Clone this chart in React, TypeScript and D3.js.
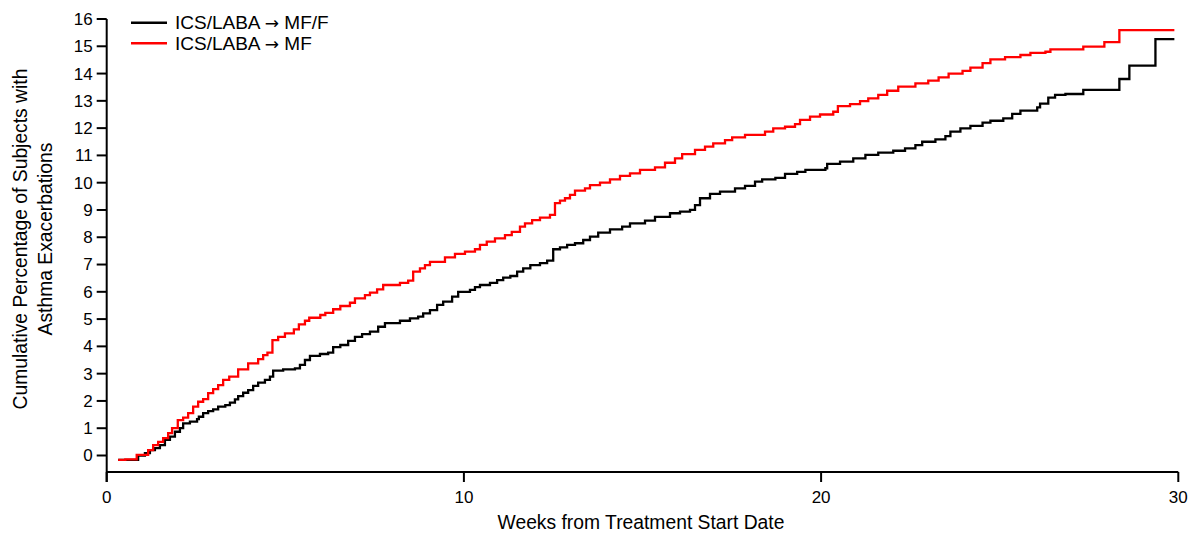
import * as React from 'react'
import * as d3 from 'd3'

// ICS/LABA -> MF/F (black)
const mffWeeks = [0.32, 0.88, 1.07, 1.21, 1.35, 1.49, 1.63, 1.77, 1.91, 2.05, 2.14, 2.33, 2.53, 2.58, 2.7, 2.84, 2.98, 3.12, 3.32, 3.45, 3.59, 3.68, 3.82, 3.96, 4.1, 4.24, 4.43, 4.57, 4.66, 4.94, 5.27, 5.41, 5.55, 5.69, 5.97, 6.2, 6.34, 6.54, 6.76, 6.95, 7.15, 7.37, 7.6, 7.79, 8.21, 8.49, 8.72, 8.86, 9.05, 9.25, 9.42, 9.67, 9.84, 10.17, 10.31, 10.45, 10.73, 10.93, 11.1, 11.3, 11.49, 11.66, 11.86, 12.13, 12.33, 12.5, 12.69, 12.89, 13.11, 13.34, 13.53, 13.76, 14.09, 14.43, 14.65, 15.07, 15.35, 15.77, 16.05, 16.33, 16.47, 16.61, 16.89, 17.17, 17.59, 17.87, 18.15, 18.35, 18.72, 18.99, 19.33, 19.56, 20.12, 20.17, 20.53, 20.9, 21.24, 21.6, 22.02, 22.35, 22.64, 22.83, 23.2, 23.48, 23.62, 23.9, 24.18, 24.52, 24.74, 25.1, 25.35, 25.58, 26.05, 26.13, 26.36, 26.55, 26.84, 27.34, 28.35, 28.63, 29.36, 29.89]
const mffPct = [-0.16, 0, 0.09, 0.2, 0.27, 0.38, 0.57, 0.69, 0.87, 1.0, 1.18, 1.24, 1.33, 1.42, 1.55, 1.63, 1.69, 1.79, 1.85, 1.94, 2.06, 2.18, 2.3, 2.4, 2.55, 2.67, 2.77, 2.89, 3.11, 3.16, 3.19, 3.32, 3.5, 3.65, 3.72, 3.77, 3.97, 4.05, 4.2, 4.35, 4.45, 4.54, 4.72, 4.85, 4.94, 5.03, 5.09, 5.21, 5.33, 5.52, 5.64, 5.82, 6.0, 6.07, 6.17, 6.25, 6.33, 6.43, 6.52, 6.58, 6.74, 6.86, 6.98, 7.05, 7.14, 7.56, 7.63, 7.72, 7.78, 7.9, 8.02, 8.17, 8.29, 8.39, 8.51, 8.61, 8.75, 8.88, 8.94, 9.0, 9.18, 9.43, 9.59, 9.67, 9.79, 9.88, 10.04, 10.12, 10.18, 10.32, 10.4, 10.47, 10.53, 10.69, 10.77, 10.89, 11.02, 11.1, 11.17, 11.26, 11.38, 11.5, 11.59, 11.71, 11.87, 11.99, 12.08, 12.2, 12.27, 12.36, 12.52, 12.64, 12.76, 12.9, 13.12, 13.22, 13.25, 13.4, 13.8, 14.29, 15.26, 15.26]

// ICS/LABA -> MF (red)
const mfWeeks = [0.32, 0.52, 0.84, 1.16, 1.3, 1.44, 1.58, 1.72, 1.83, 1.99, 2.14, 2.28, 2.42, 2.56, 2.7, 2.84, 2.98, 3.12, 3.26, 3.43, 3.68, 3.96, 4.24, 4.38, 4.5, 4.64, 4.8, 4.99, 5.24, 5.38, 5.55, 5.67, 5.98, 6.12, 6.34, 6.54, 6.81, 6.95, 7.23, 7.37, 7.57, 7.74, 8.21, 8.44, 8.58, 8.77, 8.91, 9.05, 9.47, 9.75, 10.03, 10.31, 10.45, 10.64, 10.87, 11.15, 11.34, 11.57, 11.71, 11.91, 12.13, 12.41, 12.55, 12.69, 12.83, 12.97, 13.11, 13.39, 13.53, 13.81, 14.09, 14.37, 14.65, 14.93, 15.35, 15.63, 15.91, 16.11, 16.47, 16.75, 16.98, 17.31, 17.51, 17.87, 18.43, 18.66, 18.99, 19.27, 19.41, 19.69, 19.97, 20.34, 20.47, 20.81, 21.09, 21.32, 21.6, 21.85, 22.16, 22.64, 23.0, 23.29, 23.57, 23.96, 24.18, 24.52, 24.74, 25.15, 25.58, 25.86, 26.28, 26.42, 27.34, 27.93, 28.35, 29.89]
const mfPct = [-0.16, -0.14, 0.02, 0.2, 0.38, 0.5, 0.64, 0.82, 1.0, 1.3, 1.39, 1.55, 1.79, 1.97, 2.07, 2.29, 2.43, 2.58, 2.77, 2.89, 3.16, 3.38, 3.53, 3.68, 3.77, 4.23, 4.35, 4.48, 4.62, 4.81, 4.94, 5.05, 5.15, 5.23, 5.36, 5.48, 5.6, 5.76, 5.88, 5.97, 6.09, 6.25, 6.33, 6.41, 6.74, 6.86, 6.98, 7.1, 7.26, 7.39, 7.47, 7.56, 7.72, 7.84, 7.96, 8.08, 8.2, 8.39, 8.51, 8.63, 8.72, 8.82, 9.25, 9.34, 9.43, 9.55, 9.71, 9.79, 9.91, 10.0, 10.12, 10.25, 10.34, 10.47, 10.56, 10.73, 10.89, 11.05, 11.2, 11.32, 11.44, 11.56, 11.66, 11.75, 11.87, 11.99, 12.05, 12.15, 12.3, 12.42, 12.5, 12.6, 12.81, 12.88, 12.99, 13.09, 13.22, 13.37, 13.52, 13.64, 13.74, 13.86, 14.0, 14.1, 14.22, 14.38, 14.52, 14.6, 14.68, 14.76, 14.8, 14.89, 14.99, 15.15, 15.59, 15.59]

const xTicks = [0, 10, 20, 30]
const yTicks = d3.range(0, 17)
const seriesLabels = [
  ['ICS/LABA ', 'MF/F'],
  ['ICS/LABA ', 'MF'],
]
const seriesColors = ['#000000', '#ff0000']

const W = 1190
const H = 534
const FONT = 'Liberation Sans, Arial, sans-serif'

export default function App() {
  const x = d3.scaleLinear().domain([0, 30]).range([106.7, 1178.3])
  const y = d3.scaleLinear().domain([0, 16]).range([455.5, 19])
  const axisY = 472

  const line = d3
    .line<[number, number]>()
    .x((d) => x(d[0]))
    .y((d) => y(d[1]))
    .curve(d3.curveStepAfter)

  const series = [
    d3.zip(mffWeeks, mffPct) as [number, number][],
    d3.zip(mfWeeks, mfPct) as [number, number][],
  ]

  return (
    <svg
      width={W}
      height={H}
      style={{ position: 'absolute', left: 0, top: 0, background: '#fff' }}
      fontFamily={FONT}
    >
      {/* y axis */}
      <line x1={x(0)} x2={x(0)} y1={y(16)} y2={axisY + 10} stroke="#000" strokeWidth={2} />
      {yTicks.map((t) => (
        <g key={t}>
          <line x1={x(0) - 10} x2={x(0)} y1={y(t)} y2={y(t)} stroke="#000" strokeWidth={2} />
          <text x={x(0) - 14} y={y(t)} dy="0.35em" textAnchor="end" fontSize={17}>
            {t}
          </text>
        </g>
      ))}

      {/* x axis */}
      <line x1={x(0)} x2={x(30)} y1={axisY} y2={axisY} stroke="#000" strokeWidth={2} />
      {xTicks.map((t) => (
        <g key={t}>
          <line x1={x(t)} x2={x(t)} y1={axisY} y2={axisY + 10} stroke="#000" strokeWidth={2} />
          <text x={x(t)} y={503} textAnchor="middle" fontSize={17}>
            {t}
          </text>
        </g>
      ))}

      <text x={641} y={529} textAnchor="middle" fontSize={19.3}>
        Weeks from Treatment Start Date
      </text>
      <text
        transform="translate(21.5,239) rotate(-90)"
        textAnchor="middle"
        dominantBaseline="middle"
        fontSize={19.3}
      >
        Cumulative Percentage of Subjects with
      </text>
      <text
        transform="translate(46.7,239) rotate(-90)"
        textAnchor="middle"
        dominantBaseline="middle"
        fontSize={19.3}
      >
        Asthma Exacerbations
      </text>

      {/* curves */}
      {series.map((s, i) => (
        <path key={i} d={line(s) || ''} fill="none" stroke={seriesColors[i]} strokeWidth={2.3} />
      ))}

      {/* legend */}
      {seriesLabels.map((lab, i) => (
        <g key={i} transform={`translate(131,${22.7 + i * 20.6})`}>
          <line x1={0} x2={36} y1={0} y2={0} stroke={seriesColors[i]} strokeWidth={2.5} />
          <text x={44} y={0} dy="0.35em" fontSize={19}>
            {lab[0]}
            <tspan fontFamily="DejaVu Sans" fontSize={17}>{'\u2192'}</tspan>
            {' ' + lab[1]}
          </text>
        </g>
      ))}
    </svg>
  )
}
